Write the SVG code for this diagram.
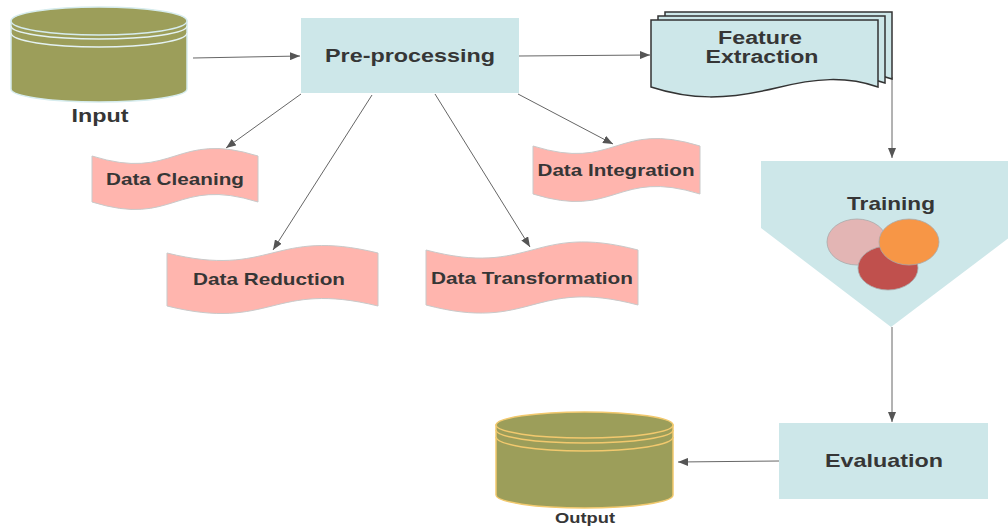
<svg xmlns="http://www.w3.org/2000/svg" width="1008" height="527" viewBox="0 0 1008 527">
<defs>
<marker id="ah" markerUnits="userSpaceOnUse" markerWidth="10" markerHeight="8" refX="10" refY="4" orient="auto">
<path d="M0,0 L10,4 L0,8 z" fill="#555"/>
</marker>
</defs>
<style>
.box{fill:#cde7e9;}
.tape{fill:#ffb5ae;stroke:#c9c9c9;stroke-width:1;}
.doc{fill:#cde7e9;stroke:#333;stroke-width:1.5;}
.cyl{fill:#9c9e5a;}
.lbl{font-family:"Liberation Sans",Arial,sans-serif;font-weight:bold;fill:#363636;text-anchor:middle;}
.conn{stroke:#666;stroke-width:1;fill:none;marker-end:url(#ah);}
</style>
<rect width="1008" height="527" fill="#fff"/>

<g id="connectors">
<line class="conn" x1="193" y1="58" x2="300" y2="56"/>
<line class="conn" x1="519" y1="56" x2="650" y2="55"/>
<line class="conn" x1="301" y1="94" x2="226" y2="148"/>
<line class="conn" x1="372" y1="95" x2="273" y2="250"/>
<line class="conn" x1="435" y1="94" x2="530" y2="247"/>
<line class="conn" x1="518" y1="94" x2="613" y2="144"/>
<polyline class="conn" points="892,77 892,158"/>
<line class="conn" x1="892" y1="327" x2="892" y2="422"/>
<line class="conn" x1="779" y1="461" x2="678" y2="462"/>
</g>

<g id="input">
<path class="cyl" d="M11,21 L11,89 A88,13 0 0 0 187,89 L187,21 Z" stroke="#d6ecee" stroke-width="1.5"/>
<ellipse class="cyl" cx="99" cy="21" rx="88" ry="14" stroke="#d6ecee" stroke-width="1.5"/>
<path d="M11,26 A88,13 0 0 0 187,26" fill="none" stroke="#e4f2f2" stroke-width="1.5"/>
<path d="M11,33 A88,14 0 0 0 187,33" fill="none" stroke="#e4f2f2" stroke-width="1.5"/>
<text class="lbl" x="100" y="122" font-size="18" textLength="57" lengthAdjust="spacingAndGlyphs">Input</text>
</g>

<g id="preprocessing">
<rect class="box" x="301" y="18" width="218" height="75"/>
<text class="lbl" x="410" y="62" font-size="19" textLength="170" lengthAdjust="spacingAndGlyphs">Pre-processing</text>
</g>

<g id="feature-extraction">
<path class="doc" d="M665,12 L892,12 L892,79 C860,68 830,70 790,80 C740,92 705,92 665,79 Z"/>
<path class="doc" d="M658,16 L885,16 L885,83 C853,72 823,74 783,84 C733,96 698,96 658,83 Z"/>
<path class="doc" d="M651,20 L878,20 L878,87 C846,76 816,78 776,88 C726,100 691,100 651,87 Z"/>
<text class="lbl" x="760" y="44" font-size="18" textLength="84" lengthAdjust="spacingAndGlyphs">Feature</text>
<text class="lbl" x="762" y="63" font-size="18" textLength="113" lengthAdjust="spacingAndGlyphs">Extraction</text>
</g>

<g id="data-cleaning">
<path class="tape" d="M92,156 C175,182 175,130 258,156 L258,202 C175,176 175,228 92,202 Z"/>
<text class="lbl" x="175" y="185" font-size="17" textLength="138" lengthAdjust="spacingAndGlyphs">Data Cleaning</text>
</g>

<g id="data-reduction">
<path class="tape" d="M167,253 C272,279 272,227 378,253 L378,306 C272,280 272,332 167,306 Z"/>
<text class="lbl" x="269" y="285" font-size="17" textLength="152" lengthAdjust="spacingAndGlyphs">Data Reduction</text>
</g>

<g id="data-integration">
<path class="tape" d="M533,146 C616,172 616,120 700,146 L700,194 C616,168 616,220 533,194 Z"/>
<text class="lbl" x="616" y="176" font-size="17" textLength="157" lengthAdjust="spacingAndGlyphs">Data Integration</text>
</g>

<g id="data-transformation">
<path class="tape" d="M426,250 C532,278 532,222 638,250 L638,305 C532,277 532,333 426,305 Z"/>
<text class="lbl" x="532" y="284" font-size="17" textLength="202" lengthAdjust="spacingAndGlyphs">Data Transformation</text>
</g>

<g id="training">
<polygon class="box" points="761,161 1022,161 1022,228 891,327 761,228"/>
<text class="lbl" x="891" y="210" font-size="19" textLength="88" lengthAdjust="spacingAndGlyphs">Training</text>
<ellipse cx="857" cy="242" rx="30" ry="23" fill="#e3b5b4" stroke="#aaa" stroke-width="0.8"/>
<ellipse cx="888" cy="268" rx="30" ry="22" fill="#c0504d" stroke="#aaa" stroke-width="0.8"/>
<ellipse cx="909" cy="242" rx="30" ry="23" fill="#f79646" stroke="#aaa" stroke-width="0.8"/>
</g>

<g id="evaluation">
<rect class="box" x="779" y="423" width="209" height="76"/>
<text class="lbl" x="884" y="467" font-size="19" textLength="118" lengthAdjust="spacingAndGlyphs">Evaluation</text>
</g>

<g id="output">
<path class="cyl" d="M496,425 L496,495 A88.5,13 0 0 0 673,495 L673,425 Z" stroke="#f2c96e" stroke-width="1.5"/>
<ellipse class="cyl" cx="584.5" cy="425" rx="88.5" ry="13" stroke="#f2c96e" stroke-width="1.5"/>
<path d="M496,430 A88.5,13 0 0 0 673,430" fill="none" stroke="#f2c96e" stroke-width="1.5"/>
<path d="M496,437 A88.5,14 0 0 0 673,437" fill="none" stroke="#f2c96e" stroke-width="1.5"/>
<text class="lbl" x="585" y="523" font-size="15" textLength="60" lengthAdjust="spacingAndGlyphs">Output</text>
</g>
</svg>
